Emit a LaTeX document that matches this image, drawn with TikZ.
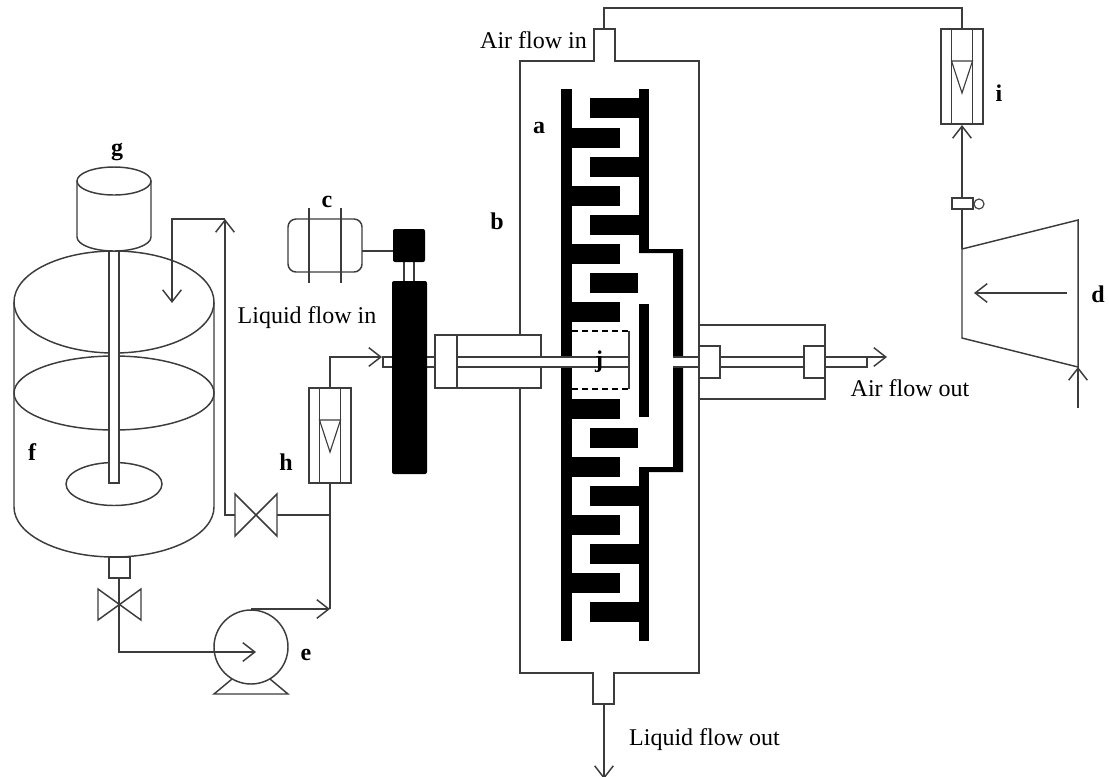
\documentclass[tikz,border=0pt]{standalone}
\usepackage{fontspec}
\setmainfont{Liberation Serif}
\usetikzlibrary{arrows.meta}
\definecolor{pipe}{HTML}{3C3C3C}
\tikzset{
  line/.style={pipe,line width=1.1pt},
  flow/.style={line,-{Straight Barb[length=9pt,width=14pt,line width=1.1pt]}},
  comb/.style={fill=black,draw=none},
  caption/.style={font=\fontsize{18}{20}\selectfont,anchor=base,inner sep=0pt,text=black},
  tag/.style={font=\fontsize{18}{20}\selectfont\bfseries,anchor=base,inner sep=0pt,text=black},
}

\begin{document}
\begin{tikzpicture}[x=0.75pt,y=-0.75pt]
  \useasboundingbox (0,0) rectangle (1109,776);

  % Tie points of the pipe work
  \coordinate (tankOut) at (119,578);
  \coordinate (pumpIn) at (119,652);
  \coordinate (pumpEnd) at (256,652);
  \coordinate (pumpTop) at (251,609);
  \coordinate (riser) at (330,609);
  \coordinate (tee) at (330,515);
  \coordinate (rotaHbottom) at (330,483);
  \coordinate (rotaHtop) at (330,388);
  \coordinate (bend) at (330,357);
  \coordinate (shaftIn) at (382,357);
  \coordinate (valveR) at (277,515);
  \coordinate (valveL) at (235,515);
  \coordinate (backLow) at (225,515);
  \coordinate (backTop) at (225,219);
  \coordinate (backLeft) at (172,219);
  \coordinate (backEnd) at (172,303);
  \coordinate (neckTop) at (604,29);
  \coordinate (neckOver) at (604,8);
  \coordinate (rotaOver) at (962,8);
  \coordinate (rotaItop) at (962,29);
  \coordinate (rotaIbottom) at (962,125);
  \coordinate (blowerTop) at (962,249);
  \coordinate (neckBottom) at (604,704);
  \coordinate (drain) at (604,779);
  \coordinate (airOutA) at (847,357);
  \coordinate (airOutB) at (887,357);
  \coordinate (blowerIn) at (1078,408);
  \coordinate (blowerFoot) at (1078,367);
  \coordinate (blowerA) at (1067,293);
  \coordinate (blowerB) at (974,293);
  \coordinate (motorSide) at (362,251);
  \coordinate (headSide) at (393,251);

  % Stirred tank
  \draw[line] (114,302) ellipse [x radius=100,y radius=51];
  \draw[line] (114,393) ellipse [x radius=100,y radius=37];
  \draw[line] (114,484) ellipse [x radius=48,y radius=21.5];
  \draw[line] (14,302) -- (14,507) arc [start angle=180,end angle=0,x radius=100,y radius=50] -- (214,302);
  \draw[line,fill=white] (109,251) rectangle (119,483);

  % Stirrer motor
  \draw[line,fill=white] (77,181) -- (77,237) arc [start angle=180,end angle=0,x radius=37,y radius=14] -- (151,181);
  \draw[line,fill=white] (114,181) ellipse [x radius=37,y radius=14];

  % Tank outlet and valves
  \draw[line] (109,557) rectangle (130,578);
  \draw[line] (98,589) -- (141,620) -- (141,589) -- (98,620) -- cycle;
  \draw[line] (235,494) -- (277,536) -- (277,494) -- (235,536) -- cycle;

  % Pump
  \draw[line] (251,647) circle (37);
  \draw[line] (232,679) -- (214,694) -- (288,694) -- (270,679);

  % Pipe work on the liquid side
  \draw[flow] (tankOut) -- (pumpIn) -- (pumpEnd);
  \draw[flow] (pumpTop) -- (riser);
  \draw[line] (riser) -- (tee) -- (rotaHbottom);
  \draw[line] (valveR) -- (tee);
  \draw[flow] (valveL) -- (backLow) -- (backTop);
  \draw[flow] (backTop) -- (backLeft) -- (backEnd);
  \draw[flow] (rotaHtop) -- (bend) -- (shaftIn);

  % Rotameters
  \foreach \px/\py in {330/388,962/29}{
    \draw[line] (\px-21,\py) rectangle (\px+21,\py+95);
    \draw[line] (\px-10.5,\py) -- (\px-10.5,\py+95);
    \draw[line] (\px+10.5,\py) -- (\px+10.5,\py+95);
    \draw[line,line width=0.85pt] (\px-10.5,\py+32) -- (\px+10.5,\py+32) -- (\px,\py+64) -- cycle;
  }

  % Reactor body
  \draw[line] (594,61) -- (594,29) -- (615,29) -- (615,61) -- (699,61) -- (699,673) -- (614,673)
    -- (614,704) -- (593,704) -- (593,673) -- (520,673) -- (520,61) -- cycle;

  % Fixed comb on the left
  \fill[comb] (561,89) rectangle (572,641);
  \foreach \ya in {128,186,244,302,399,457,515,573}{
    \fill[comb] (572,\ya) rectangle (620,\ya+20);
  }

  % Comb on the right, with its return band
  \fill[comb] (639,89) rectangle (649,253);
  \fill[comb] (639,467) rectangle (649,641);
  \foreach \ya in {98,157,215,486,544,602}{
    \fill[comb] (590,\ya) rectangle (639,\ya+20);
  }
  \fill[comb] (639,249) -- (683,249) -- (683,472) -- (639,472) -- (639,467) -- (673,467) -- (673,253) -- (639,253) -- cycle;
  \fill[comb] (590,273) rectangle (638,293);
  \fill[comb] (590,428) rectangle (638,448);
  \fill[comb] (639,304) rectangle (649,417);

  % Inner shaft and seal
  \draw[line,fill=white] (383,357) rectangle (629,367);
  \draw[line,fill=white] (457,335) rectangle (541,388);
  \draw[line,fill=white] (457,357) rectangle (629,367);
  \draw[line,fill=white] (435,335) rectangle (457,388);
  \draw[line] (629,331) -- (629,389);
  \draw[black,line width=1.1pt,dash pattern=on 4.5pt off 3pt] (572,331) -- (629,331);
  \draw[black,line width=1.1pt,dash pattern=on 4.5pt off 3pt] (572,389) -- (629,389);

  % Outer shaft
  \fill[white] (673,357) rectangle (699,367);
  \draw[line] (673,357) -- (699,357);
  \draw[line] (673,367) -- (699,367);
  \draw[line] (699,325) -- (825,325) -- (825,399) -- (699,399);
  \draw[line,fill=white] (720,357) rectangle (804,367);
  \draw[line,fill=white] (825,357) rectangle (867,367);
  \draw[line,fill=white] (699,346) rectangle (720,378);
  \draw[line,fill=white] (804,346) rectangle (825,378);
  \draw[flow] (airOutA) -- (airOutB);

  % Pump head and its motor
  \draw[line] (404,262) -- (404,281);
  \draw[line] (414,262) -- (414,281);
  \fill[black,rounded corners=1.5pt] (393,229) rectangle (425,262);
  \fill[black,rounded corners=1.5pt] (392,281) rectangle (427,474);
  \draw[line,rounded corners=6pt] (288,219) rectangle (362,272);
  \draw[line] (309,208) -- (309,283);
  \draw[line] (341,208) -- (341,283);
  \draw[line] (motorSide) -- (headSide);

  % Air side
  \draw[line] (neckTop) -- (neckOver) -- (rotaOver) -- (rotaItop);
  \draw[flow] (blowerTop) -- (rotaIbottom);
  \draw[line,fill=white] (952,198) rectangle (973,209);
  \draw[line,line width=0.85pt] (979,204) circle (5);
  \draw[line] (962,249) -- (1078,220) -- (blowerFoot) -- (962,338) -- cycle;
  \draw[flow] (blowerA) -- (blowerB);
  \draw[flow] (blowerIn) -- (blowerFoot);

  % Liquid outlet
  \draw[flow] (neckBottom) -- (drain);

  % Labels
  \node[caption] (airIn) at (533.5,48) {Air flow in};
  \node[caption] (liquidIn) at (307,323) {Liquid flow in};
  \node[caption] (airOut) at (910,396) {Air flow out};
  \node[caption] (liquidOut) at (704.5,745) {Liquid flow out};
  \node[tag] (tagA) at (539,133) {a};
  \node[tag] (tagB) at (497,229) {b};
  \node[tag] (tagC) at (327,207) {c};
  \node[tag] (tagD) at (1098,302) {d};
  \node[tag] (tagE) at (306,660) {e};
  \node[tag] (tagF) at (32,460) {f};
  \node[tag] (tagG) at (117,155) {g};
  \node[tag] (tagH) at (286,470) {h};
  \node[tag] (tagI) at (999,101) {i};
  \node[tag] (tagJ) at (599,367) {j};
\end{tikzpicture}
\end{document}
